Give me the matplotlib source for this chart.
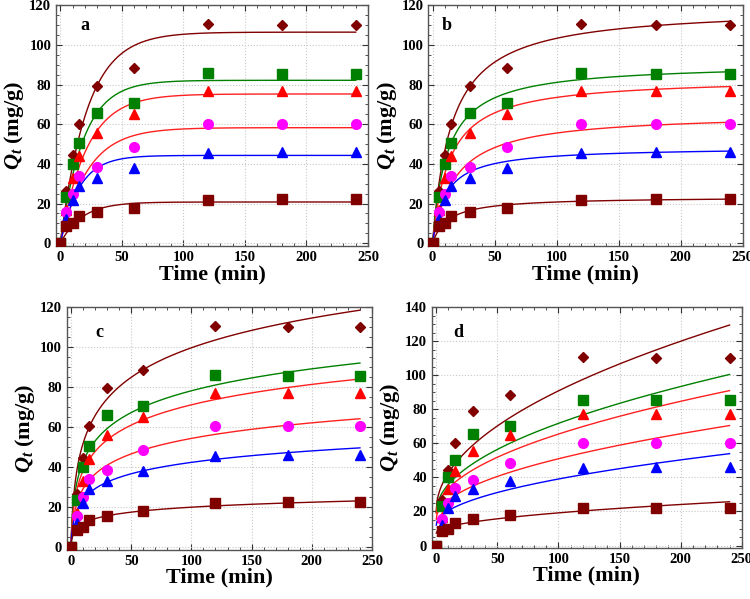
import numpy as np
import matplotlib
matplotlib.use("Agg")
import matplotlib.pyplot as plt
from matplotlib.ticker import MultipleLocator

plt.rcParams['font.family'] = ['Liberation Serif', 'DejaVu Serif']
plt.rcParams['font.weight'] = 'bold'
plt.rcParams['mathtext.fontset'] = 'custom'
plt.rcParams['mathtext.it'] = 'Liberation Serif:italic:bold'
plt.rcParams['mathtext.rm'] = 'Liberation Serif:bold'

# measured data (same in every panel)
time = [0, 5, 10, 15, 30, 60, 120, 180, 240]
q_diamond = [0, 26.5, 44.5, 60.3, 79.3, 88.5, 110.5, 110.0, 110.0]
q_green = [0, 23.5, 40.0, 50.5, 65.7, 70.5, 85.8, 85.5, 85.5]
q_red = [0, 17.0, 33.0, 44.0, 55.8, 65.0, 77.0, 77.0, 77.0]
q_magenta = [0, 15.5, 25.0, 33.8, 38.5, 48.5, 60.3, 60.3, 60.3]
q_blue = [0, 12.0, 22.0, 29.0, 33.0, 38.0, 45.5, 46.0, 46.0]
q_square = [0, 8.5, 10.0, 13.5, 15.5, 18.0, 22.0, 22.2, 22.3]

series = [q_diamond, q_green, q_red, q_magenta, q_blue, q_square]
markers = ['D', 's', '^', 'o', '^', 's']
msizes = [5.5, 7, 7.5, 7, 7.5, 7]
mcolors = ['#800000', '#008000', '#ff0000', '#ff00ff', '#0000ff', '#800000']
lcolors = ['#800000', '#008000', '#ff2020', '#ff2020', '#0000ff', '#800000']

# fitted model parameters, one value per series (same order as above)
pfo_qe = [106.5, 82.2, 75.3, 58.3, 44.3, 20.8]
pfo_k = [0.046, 0.054, 0.047, 0.045, 0.065, 0.057]
pso_qe = [119.1, 90.8, 83.5, 65.6, 48.5, 23.4]
pso_tau = [15.2, 11.9, 13.5, 18.0, 10.4, 12.5]
elo_b = [21.6, 15.9, 14.8, 11.3, 8.3, 3.6]
elo_ab = [0.99, 1.34, 1.2, 1.2, 1.61, 2.46]
ipd_k = [7.04, 5.23, 4.65, 3.55, 2.71, 1.19]
ipd_c = [20.5, 19.5, 19.0, 15.5, 12.0, 7.3]

tt = np.linspace(0, 240, 400)


def pfo(i):
    return pfo_qe[i] * (1 - np.exp(-pfo_k[i] * tt))


def pso(i):
    return pso_qe[i] * tt / (tt + pso_tau[i])


def elovich(i):
    return elo_b[i] * np.log(1 + elo_ab[i] * tt)


def ipd(i):
    return ipd_k[i] * np.sqrt(tt) + ipd_c[i]


fig = plt.figure(figsize=(7.5, 5.99), dpi=100)
panels = [
    ('a', pfo, [0.0747, 0.589, 0.416, 0.402], 120, (20, 110)),
    ('b', pso, [0.571, 0.589, 0.419, 0.402], 120, (11, 110)),
    ('c', elovich, [0.089, 0.082, 0.407, 0.406], 120, (24, 107)),
    ('d', ipd, [0.576, 0.085, 0.413, 0.402], 140, (18, 125)),
]

for label, model, rect, ymax, lpos in panels:
    ax = fig.add_axes(rect)
    for i, q in enumerate(series):
        ax.plot(tt, model(i), color=lcolors[i], lw=1.0, zorder=2)
        ax.plot(time, q, linestyle='none', marker=markers[i], ms=msizes[i],
                color=mcolors[i], markeredgecolor=mcolors[i], zorder=3)
    ax.set_xlim(-3.5, 250)
    ax.set_ylim(-1.5, ymax)
    ax.xaxis.set_major_locator(MultipleLocator(50))
    ax.xaxis.set_minor_locator(MultipleLocator(10))
    ax.yaxis.set_major_locator(MultipleLocator(20))
    ax.yaxis.set_minor_locator(MultipleLocator(5))
    ax.grid(True, which='major', color='#c8c8c8', linestyle=':', lw=0.8)
    ax.tick_params(which='both', direction='in', top=True, right=True,
                   labelsize=10.5, color='#333333')
    ax.tick_params(which='major', length=4)
    ax.tick_params(which='minor', length=2.5)
    for lab in ax.get_xticklabels() + ax.get_yticklabels():
        lab.set_fontweight('bold')
    for s in ax.spines.values():
        s.set_color('#555555')
        s.set_linewidth(1.0)
    ax.set_xlabel('Time (min)', fontsize=16, fontweight='bold', labelpad=0)
    ax.set_ylabel(r'$\mathit{Q_t}$ (mg/g)', fontsize=16, fontweight='bold', labelpad=2)
    ax.text(lpos[0], lpos[1], label, fontsize=13, fontweight='bold', ha='center', va='center')

fig.savefig('out.png', dpi=100)
